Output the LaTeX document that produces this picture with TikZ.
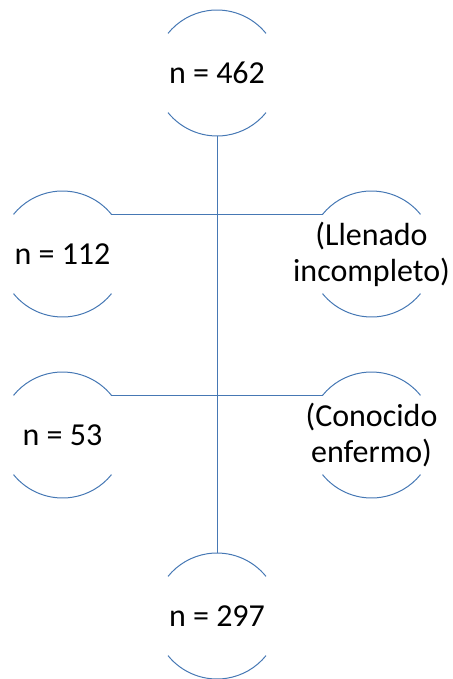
\documentclass[tikz,border=0pt]{standalone}
\usepackage{fontspec}
\setmainfont{Carlito}
\usetikzlibrary{positioning}
\definecolor{cRing}{RGB}{70,120,180}

\begin{document}
\begin{tikzpicture}[x=1pt,y=1pt,
  txt/.style={align=center,inner sep=0pt,font=\fontsize{32}{36}\selectfont},
  ring/.style={circle,minimum size=126pt,inner sep=0pt,outer sep=0pt,label={[txt]center:#1}},
  link/.style={draw=cRing,line width=1pt}]
  \useasboundingbox (0,0) rectangle (452,-679);
  % counts
  \node[ring={n = 462}] (total) at (217,-73) {};
  \node[ring={n = 112}] (exclA) at (62.5,-254) {};
  \node[ring={(Llenado\\incompleto)}] (whyA) at (371.5,-254) {};
  \node[ring={n = 53}] (exclB) at (62.5,-435) {};
  \node[ring={(Conocido\\enfermo)}] (whyB) at (371.5,-435) {};
  \node[ring={n = 297}] (final) at (217,-616) {};
  % arcs
  \foreach \n in {total,exclA,whyA,exclB,whyB,final} {
    \draw[link] (\n.39) arc (39:141:63pt);
    \draw[link] (\n.219) arc (219:321:63pt);
  }
  % connectors
  \draw[link] (total.south) -- (final.north);
  \draw[link] (exclA.39) -- (whyA.141);
  \draw[link] (exclB.39) -- (whyB.141);
\end{tikzpicture}
\end{document}
